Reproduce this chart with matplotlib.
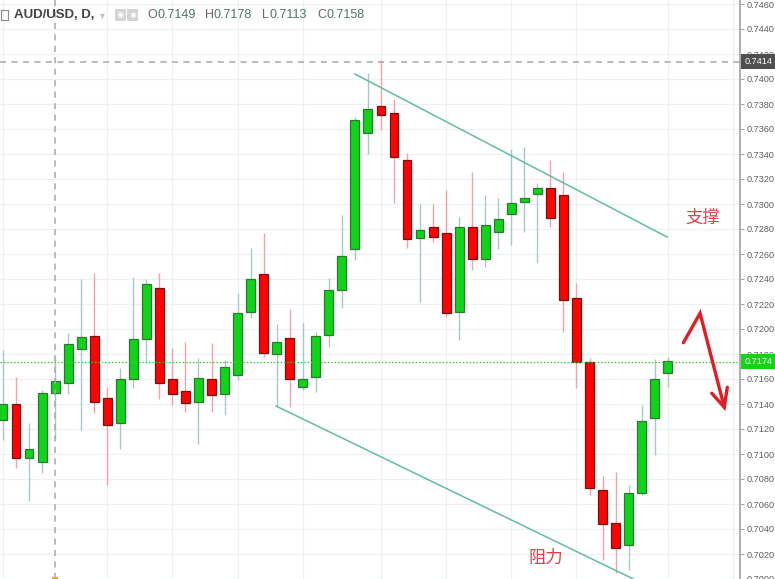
import matplotlib
matplotlib.use("Agg")
import matplotlib.pyplot as plt
import matplotlib.transforms as mtransforms
from matplotlib.patches import Rectangle, FancyBboxPatch

# ---------------- data (AUD/USD daily candles) ----------------
opens = [0.7127, 0.7140, 0.7097, 0.7094, 0.7149, 0.7157, 0.7184, 0.7194, 0.7145, 0.7125,
         0.7160, 0.7192, 0.7233, 0.7160, 0.7150, 0.7142, 0.7160, 0.7148, 0.7163, 0.7214,
         0.7244, 0.7180, 0.7193, 0.7154, 0.7162, 0.7195, 0.7231, 0.7264, 0.7357, 0.7378,
         0.7373, 0.7335, 0.7273, 0.7282, 0.7277, 0.7214, 0.7282, 0.7256, 0.7278, 0.7292,
         0.7302, 0.7308, 0.7313, 0.7307, 0.7225, 0.7174, 0.7071, 0.7045, 0.7027, 0.7069,
         0.7129, 0.7165]
highs = [0.7183, 0.7162, 0.7125, 0.7151, 0.7178, 0.7197, 0.7240, 0.7245, 0.7154, 0.7169,
         0.7242, 0.7240, 0.7245, 0.7185, 0.7190, 0.7177, 0.7189, 0.7175, 0.7229, 0.7265,
         0.7277, 0.7204, 0.7216, 0.7205, 0.7198, 0.7241, 0.7291, 0.7370, 0.7405, 0.7415,
         0.7384, 0.7341, 0.7300, 0.7300, 0.7311, 0.7290, 0.7326, 0.7307, 0.7305, 0.7344,
         0.7346, 0.7317, 0.7335, 0.7326, 0.7237, 0.7177, 0.7082, 0.7086, 0.7075, 0.7139,
         0.7176, 0.7178]
lows = [0.7111, 0.7089, 0.7062, 0.7085, 0.7113, 0.7148, 0.7119, 0.7133, 0.7075, 0.7104,
        0.7153, 0.7174, 0.7144, 0.7139, 0.7134, 0.7108, 0.7134, 0.7131, 0.7159, 0.7209,
        0.7178, 0.7138, 0.7138, 0.7151, 0.7150, 0.7186, 0.7217, 0.7255, 0.7340, 0.7359,
        0.7301, 0.7265, 0.7222, 0.7270, 0.7210, 0.7191, 0.7247, 0.7250, 0.7264, 0.7267,
        0.7278, 0.7253, 0.7282, 0.7198, 0.7153, 0.7067, 0.7015, 0.7005, 0.7007, 0.7067,
        0.7099, 0.7154]
closes = [0.7140, 0.7097, 0.7104, 0.7149, 0.7158, 0.7188, 0.7194, 0.7142, 0.7123, 0.7160,
          0.7192, 0.7236, 0.7157, 0.7148, 0.7141, 0.7161, 0.7147, 0.7170, 0.7213, 0.7240,
          0.7181, 0.7190, 0.7160, 0.7160, 0.7194, 0.7231, 0.7258, 0.7367, 0.7376, 0.7371,
          0.7338, 0.7272, 0.7279, 0.7274, 0.7213, 0.7282, 0.7256, 0.7283, 0.7288, 0.7301,
          0.7305, 0.7313, 0.7289, 0.7223, 0.7174, 0.7073, 0.7044, 0.7025, 0.7069, 0.7126,
          0.7160, 0.7174]

price_ticks = [0.7000, 0.7020, 0.7040, 0.7060, 0.7080, 0.7100, 0.7120, 0.7140, 0.7160,
               0.7180, 0.7200, 0.7220, 0.7240, 0.7260, 0.7280, 0.7300, 0.7320, 0.7340,
               0.7360, 0.7380, 0.7400, 0.7420, 0.7440, 0.7460]
time_grid_bars = [0, 8, 13, 18, 23, 29, 34, 39, 44, 51, 56]

symbol_title = "AUD/USD, D,"
crosshair_bar = 4
crosshair_price = 0.7414
last_price = 0.7174

upper_line_x = [27.0, 50.95]
upper_line_y = [0.7404, 0.72736]
lower_line_x = [20.95, 48.36]
lower_line_y = [0.71384, 0.7000]

arrow_x = [52.2, 53.48, 55.34]
arrow_y = [0.7189, 0.72126, 0.71374]
barb_x = [54.38, 55.34, 55.57]
barb_y = [0.71486, 0.71374, 0.71534]

label_support = "支撑"
label_resist = "阻力"

# ---------------- figure ----------------
W, H = 775, 579
fig = plt.figure(figsize=(W / 100, H / 100), dpi=100)
fig.patch.set_facecolor("white")
ax = fig.add_axes([0, 0, 740 / W, 1])
ax.set_facecolor("white")

ax.set_xlim(-0.228, 56.546)
ax.set_ylim(0.7000, 0.74632)

# grid
for p in price_ticks:
    ax.axhline(p, color="#eef1f3", lw=0.9, zorder=0)
for b in time_grid_bars:
    ax.axvline(b, color="#eef1f3", lw=0.9, zorder=0)

# candles
idx = list(range(len(opens)))
up = [c >= o for o, c in zip(opens, closes)]
body_col = ["#10d418" if u else "#ff0303" for u in up]
edge_col = ["#2a7a34" if u else "#7a1010" for u in up]
wick_col = ["#a9c8ce" if u else "#f2a2aa" for u in up]
ax.vlines(idx, lows, highs, colors=wick_col, lw=1.0, zorder=2)
bottoms = [min(o, c) for o, c in zip(opens, closes)]
heights = [max(abs(c - o), 0.00005) for o, c in zip(opens, closes)]
ax.bar(idx, heights, bottom=bottoms, width=0.68, color=body_col,
       edgecolor=edge_col, linewidth=0.9, zorder=3)

# trend lines
ax.plot(upper_line_x, upper_line_y, color="#62bca6", lw=1.1, zorder=4)
ax.plot(lower_line_x, lower_line_y, color="#62bca6", lw=1.1, zorder=4)

# crosshair
ax.axvline(crosshair_bar, color="#a8a8a8", lw=1.1, ls=(0, (4, 3.5)), zorder=5)
ax.axhline(crosshair_price, color="#a8a8a8", lw=1.1, ls=(0, (4, 3.5)), zorder=5)
# last price line
ax.axhline(last_price, color="#33cc33", lw=0.9, ls=(0, (1.2, 1.5)), zorder=5)

# hand-drawn arrow
ax.plot(arrow_x, arrow_y, color="#e31b23", lw=2.4, solid_capstyle="round",
        solid_joinstyle="miter", zorder=6)
ax.plot(barb_x, barb_y, color="#e31b23", lw=2.4, solid_capstyle="round",
        solid_joinstyle="miter", zorder=6)

# Chinese labels
cjk = ["Noto Sans CJK SC", "DejaVu Sans"]
ax.text(53.71, 0.72888, label_support, family=cjk, fontsize=12.5, color="#e0404a",
        ha="center", va="center", zorder=7)
ax.text(41.66, 0.70168, label_resist, family=cjk, fontsize=12.5, color="#e0404a",
        ha="center", va="center", zorder=7)

# price axis
for s in ["top", "left", "bottom"]:
    ax.spines[s].set_visible(False)
ax.spines["right"].set_color("#a8a8a8")
ax.spines["right"].set_linewidth(1.3)
ax.set_xticks([])
ax.yaxis.tick_right()
ax.set_yticks(price_ticks)
ax.set_yticklabels([f"{p:.4f}" for p in price_ticks])
ax.tick_params(axis="y", direction="out", length=3, width=0.8, color="#a8a8a8",
               labelsize=6.6, labelcolor="#5e5e5e", pad=1.5)
for t in ax.get_yticklabels():
    t.set_family("Liberation Sans")

# price badges
bt = mtransforms.blended_transform_factory(fig.transFigure, ax.transData)
def badge(price, text, fc):
    h = 0.00122
    ax.add_patch(Rectangle((741 / W, price - h / 2), 34 / W, h, transform=bt,
                           facecolor=fc, edgecolor="none", clip_on=False, zorder=20))
    ax.text(758.5 / W, price, text, transform=bt, ha="center", va="center",
            fontsize=6.6, color="white", family="Liberation Sans", clip_on=False, zorder=21)
badge(crosshair_price, f"{crosshair_price:.4f}", "#4f4f4f")
badge(last_price, f"{last_price:.4f}", "#14d414")

# crosshair time marker at bottom
ax.add_patch(Rectangle((crosshair_bar - 0.25, 0.70), 0.5, 0.00012, facecolor="#f5a623",
                       edgecolor="none", clip_on=False, zorder=20))

# header
def fx(px):
    return px / W
def fy(py):
    return 1 - py / H

fig.patches.append(Rectangle((fx(1), fy(20)), 7 / W, 10 / H, transform=fig.transFigure,
                             facecolor="none", edgecolor="#8a8a8a", lw=0.8))
fig.text(fx(14), fy(15), symbol_title, fontsize=9.5, fontweight="bold", color="#454545",
         family="Liberation Sans", va="center", ha="left")
fig.text(fx(100), fy(15), "▾", fontsize=7, color="#c0c0c0", va="center", ha="left")
for x0 in (115, 127):
    fig.patches.append(FancyBboxPatch((fx(x0), fy(21)), 11 / W, 12 / H,
                                      boxstyle="round,pad=0,rounding_size=0.002",
                                      transform=fig.transFigure, facecolor="#d4d4d4",
                                      edgecolor="none"))
fig.text(fx(120.5), fy(15), "◉", fontsize=6, color="white", va="center", ha="center")
fig.text(fx(132.5), fy(15), "✱", fontsize=6, color="white", va="center", ha="center")

k = crosshair_bar
header_items = [("O", opens[k], 147, 157.5), ("H", highs[k], 205, 214),
                ("L", lows[k], 262, 269), ("C", closes[k], 317, 326.5)]
for letter, val, xl, xv in header_items:
    fig.text(fx(xl), fy(15), letter, fontsize=9, color="#666666",
             family="Liberation Sans", va="center", ha="left")
    fig.text(fx(xv), fy(15), f"{val:.4f}", fontsize=9, color="#4f7468",
             family="Liberation Sans", va="center", ha="left")

fig.savefig("out.png", dpi=100, facecolor="white")
